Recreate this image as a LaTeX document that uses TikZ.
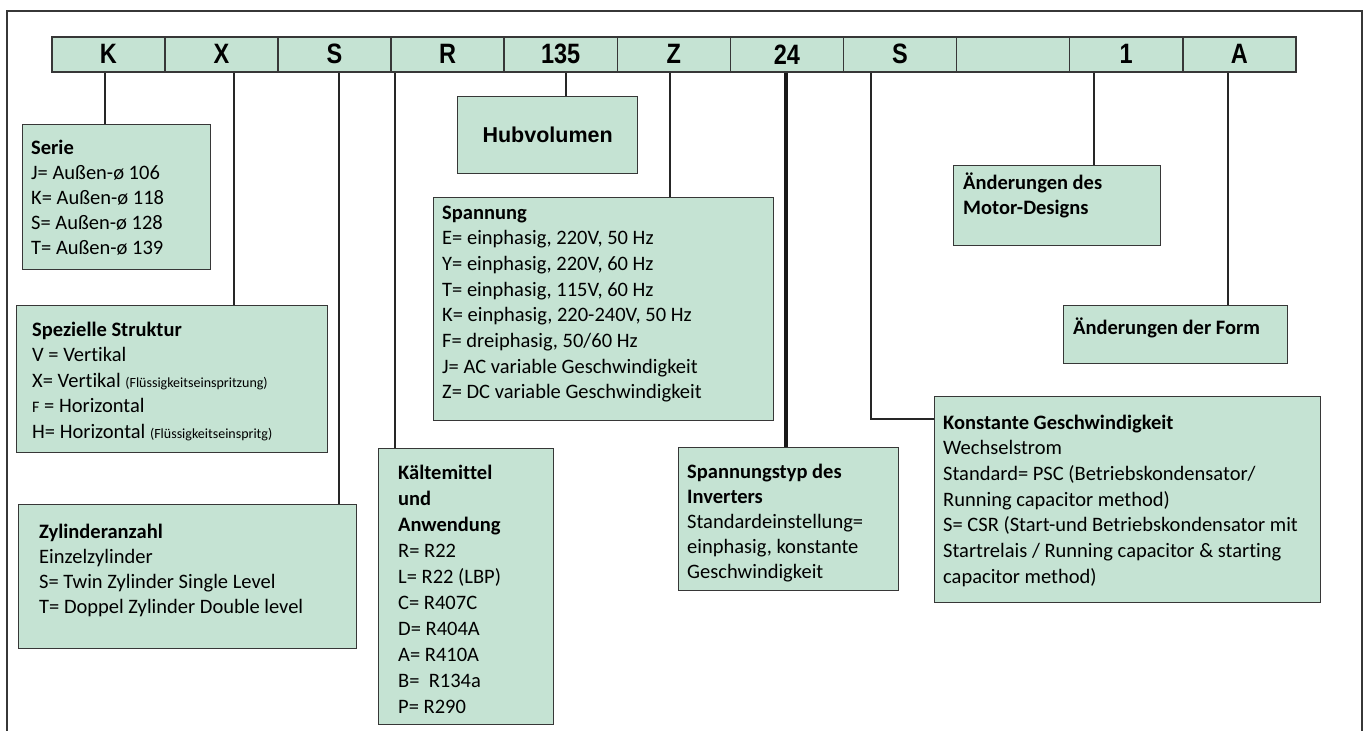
\documentclass[tikz,border=0pt]{standalone}
\usepackage{fontspec}
\setmainfont{Carlito}[Ligatures=NoCommon]
\newfontfamily\barfont{Liberation Sans}
\usetikzlibrary{calc}
\definecolor{boxfill}{RGB}{197,227,211}
\definecolor{edge}{RGB}{55,55,55}
\newcommand\boxtext[2]{\parbox[t]{420pt}{\fontsize{20.5}{#1}\selectfont #2}}
\newcommand\smalltxt[1]{{\fontsize{14}{14}\selectfont #1}}
\newcommand\barlabel[1]{\scalebox{0.84}[1]{#1}}
\tikzset{
  cell/.style={draw=edge, line width=1.5pt, fill=boxfill, minimum width=113.1pt,
    minimum height=35pt, inner sep=0pt, anchor=north west,
    font=\barfont\bfseries\fontsize{28}{28}\selectfont},
  box/.style={draw=edge, line width=1.3pt, fill=boxfill, inner sep=0pt, anchor=north west},
  txt/.style={anchor=base west, inner sep=0pt},
  conn/.style={draw=black!85, line width=1.6pt},
  thickconn/.style={draw=black!90, line width=4pt},
}
\begin{document}
\begin{tikzpicture}[x=1pt,y=-1pt]
\useasboundingbox (0,0) rectangle (1369,731);
% frame
\draw[edge, line width=2pt] (7,731) -- (7,11) -- (1362,11) -- (1362,731);
% code bar
\foreach \t [count=\i] in {K,X,S,R,135,Z,24,S,{},1,A}
  \node[cell] (c\i) at ({51+(\i-1)*113.1},36) {\barlabel{\t}};
% boxes
\node[box, minimum width=188pt, minimum height=145pt] (serie) at (22,124) {};
\node[box, minimum width=311pt, minimum height=147pt] (spez) at (16,305) {};
\node[box, minimum width=338pt, minimum height=144pt] (zyl) at (18,504) {};
\node[box, minimum width=175pt, minimum height=276pt] (kalt) at (378,448) {};
\node[box, minimum width=180pt, minimum height=77pt,
      font=\barfont\bfseries\fontsize{21.5}{21.5}\selectfont] (hub) at (457,96) {Hubvolumen};
\node[box, minimum width=340pt, minimum height=223pt] (spann) at (433,197) {};
\node[box, minimum width=220pt, minimum height=143pt] (styp) at (678,447) {};
\node[box, minimum width=207pt, minimum height=80pt] (motor) at (953,165) {};
\node[box, minimum width=224pt, minimum height=58pt] (form) at (1063,305) {};
\node[box, minimum width=386pt, minimum height=206pt] (konst) at (934,396) {};
% connector x positions
\coordinate (xK) at (105,0);
\coordinate (xX) at (234,0);
\coordinate (xS) at (339,0);
\coordinate (xR) at (395,0);
\coordinate (xH) at (566,0);
\coordinate (xZ) at (670,0);
\coordinate (xV) at (786,0);
\coordinate (xM) at (871,0);
\coordinate (yM) at (0,419);
\coordinate (xE) at (1094,0);
\coordinate (xA) at (1228,0);
% connectors
\draw[conn] (c1.south -| xK) -- (serie.north -| xK);
\draw[conn] (c2.south -| xX) -- (spez.north -| xX);
\draw[conn] (c3.south -| xS) -- (zyl.north -| xS);
\draw[conn] (c4.south -| xR) -- (kalt.north -| xR);
\draw[conn] (c5.south -| xH) -- (hub.north -| xH);
\draw[conn] (c6.south -| xZ) -- (spann.north -| xZ);
\draw[thickconn] (c7.south -| xV) -- (styp.north -| xV);
\draw[conn, line width=2.4pt] (c8.south -| xM) |- (konst.west |- yM);
\draw[conn] (c10.south -| xE) -- (motor.north -| xE);
\draw[conn] (c11.south -| xA) -- (form.north -| xA);
% texts
\node[txt] (serieT) at (31,154) {\boxtext{25}{\textbf{Serie}\\
  J= Außen-ø 106\\K= Außen-ø 118\\S= Außen-ø 128\\T= Außen-ø 139}};
\node[txt] (spezT) at (32,336) {\boxtext{25.5}{\textbf{Spezielle Struktur}\\
  V = Vertikal\\X= Vertikal \smalltxt{(Flüssigkeitseinspritzung)}\\
  {\fontsize{16}{16}\selectfont F} = Horizontal\\H= Horizontal \smalltxt{(Flüssigkeitseinspritg)}}};
\node[txt] (zylT) at (39,538) {\boxtext{25.3}{\textbf{Zylinderanzahl}\\
  Einzelzylinder\\S= Twin Zylinder Single Level\\T= Doppel Zylinder Double level}};
\node[txt] (kaltT) at (398,479) {\boxtext{26}{\textbf{Kältemittel}\\\textbf{und}\\\textbf{Anwendung}\\
  R= R22\\L= R22 (LBP)\\C= R407C\\D= R404A\\A= R410A\\B=\ \ R134a\\P= R290}};
\node[txt] (spannT) at (442,219) {\boxtext{25.7}{\textbf{Spannung}\\
  E= einphasig, 220V, 50 Hz\\Y= einphasig, 220V, 60 Hz\\T= einphasig, 115V, 60 Hz\\
  K= einphasig, 220-240V, 50 Hz\\F= dreiphasig, 50/60 Hz\\
  J= AC variable Geschwindigkeit\\Z= DC variable Geschwindigkeit}};
\node[txt] (stypT) at (687,478) {\boxtext{25.2}{\textbf{Spannungstyp des}\\\textbf{Inverters}\\
  Standardeinstellung=\\einphasig, konstante\\Geschwindigkeit}};
\node[txt] (motorT) at (963,189) {\boxtext{25}{\textbf{Änderungen des}\\\textbf{Motor-Designs}}};
\node[txt] (formT) at (1073,334) {\boxtext{25}{\textbf{Änderungen der Form}}};
\node[txt] (konstT) at (943,429) {\boxtext{25.7}{\textbf{Konstante Geschwindigkeit}\\
  Wechselstrom\\Standard= PSC (Betriebskondensator/\\Running capacitor method)\\
  S= CSR (Start-und Betriebskondensator mit\\
  Startrelais / Running capacitor \& starting\\capacitor method)}};
\end{tikzpicture}
\end{document}
